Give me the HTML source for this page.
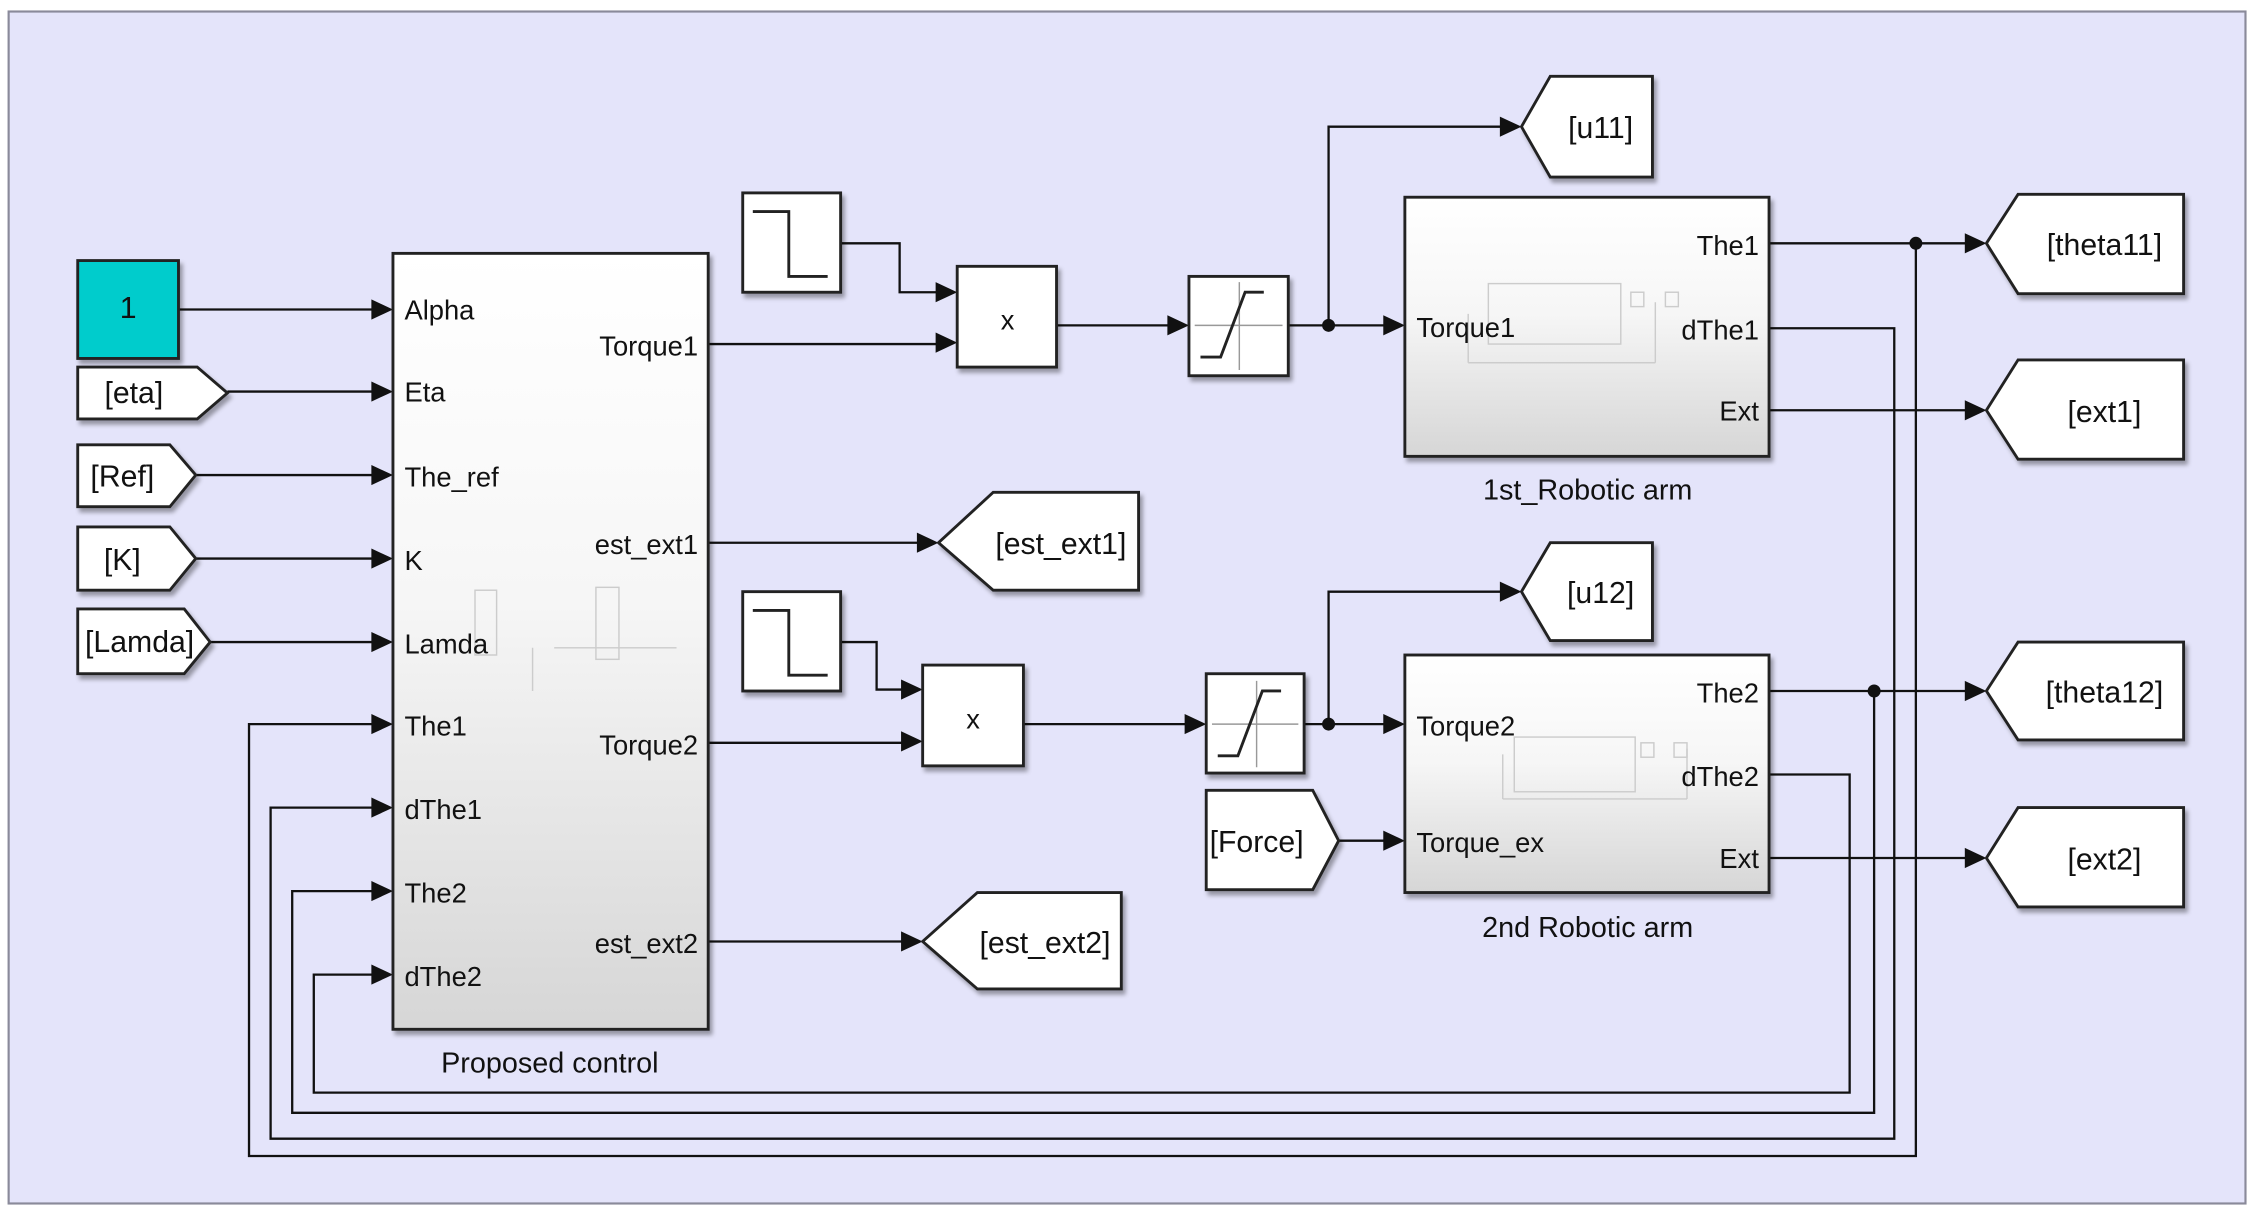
<!DOCTYPE html>
<html><head><meta charset="utf-8"><style>
html,body{margin:0;padding:0;background:#fff;}
svg{display:block;}
text{font-family:"Liberation Sans",sans-serif;fill:#111;}
</style></head><body>
<svg width="2257" height="1215" viewBox="0 0 1568 844" preserveAspectRatio="none" xmlns="http://www.w3.org/2000/svg">
<defs>
<linearGradient id="g1" x1="0" y1="0" x2="0" y2="1">
<stop offset="0" stop-color="#ffffff"/><stop offset="0.45" stop-color="#f6f6f6"/><stop offset="1" stop-color="#d6d6d6"/>
</linearGradient>
<filter id="sh" x="-10%" y="-10%" width="130%" height="130%"><feDropShadow dx="2" dy="3" stdDeviation="1.5" flood-color="#000" flood-opacity="0.35"/></filter>
</defs>
<rect x="6" y="8" width="1554" height="828" fill="#e4e4fa" stroke="#8a8a9a" stroke-width="1.5"/>

<g stroke="#111" stroke-width="1.6" fill="none">
<!-- inputs to control -->
<path d="M124 215H262"/><path d="M158 272H262"/><path d="M136 330H262"/><path d="M136 388H262"/><path d="M146 446H262"/>
<!-- control outputs -->
<path d="M492 239H654"/><path d="M492 377H641"/><path d="M492 516H630"/><path d="M492 654H630"/>
<!-- steps -->
<path d="M584 169H625V203H654"/><path d="M584 446H609V479H630"/>
<!-- products to sat -->
<path d="M734 226H815"/><path d="M711 503H827"/>
<!-- sat to arm -->
<path d="M895 226H965"/><path d="M923 226V88H1046"/>
<path d="M906 503H965"/><path d="M923 503V411H1046"/>
<path d="M930 584H965"/>
<!-- arm outputs -->
<path d="M1229 169H1369"/><path d="M1229 285H1369"/>
<path d="M1229 480H1369"/><path d="M1229 596H1369"/>
<!-- feedback -->
<path d="M1331 169V803H173V503H262"/>
<path d="M1229 228H1316V791H188V561H262"/>
<path d="M1302 480V773H203V619H262"/>
<path d="M1229 538H1285V759H218V677H262"/>
</g>
<g fill="#111">
<circle cx="923" cy="226" r="4.5"/><circle cx="923" cy="503" r="4.5"/>
<circle cx="1331" cy="169" r="4.5"/><circle cx="1302" cy="480" r="4.5"/>
<!-- arrowheads -->
<polygon points="258,208 273,215 258,222"/><polygon points="258,265 273,272 258,279"/><polygon points="258,323 273,330 258,337"/>
<polygon points="258,381 273,388 258,395"/><polygon points="258,439 273,446 258,453"/><polygon points="258,496 273,503 258,510"/>
<polygon points="258,554 273,561 258,568"/><polygon points="258,612 273,619 258,626"/><polygon points="258,670 273,677 258,684"/>
<polygon points="650,196 665,203 650,210"/><polygon points="650,231 665,238 650,245"/>
<polygon points="626,472 641,479 626,486"/><polygon points="626,508 641,515 626,522"/>
<polygon points="637,370 652,377 637,384"/><polygon points="626,647 641,654 626,661"/>
<polygon points="811,219 826,226 811,233"/><polygon points="823,496 838,503 823,510"/>
<polygon points="961,219 976,226 961,233"/><polygon points="961,496 976,503 961,510"/><polygon points="961,577 976,584 961,591"/>
<polygon points="1042,81 1057,88 1042,95"/><polygon points="1042,404 1057,411 1042,418"/>
<polygon points="1365,162 1380,169 1365,176"/><polygon points="1365,278 1380,285 1365,292"/>
<polygon points="1365,473 1380,480 1365,487"/><polygon points="1365,589 1380,596 1365,603"/>
</g>

<g stroke="#222" stroke-width="2" filter="url(#sh)">
<rect x="54" y="181" width="70" height="68" fill="#00cccc"/>
<polygon points="54,255 137,255 158,273 137,291 54,291" fill="#fff"/>
<polygon points="54,309 118,309 136,330 118,352 54,352" fill="#fff"/>
<polygon points="54,366 118,366 136,388 118,410 54,410" fill="#fff"/>
<polygon points="54,423 128,423 146,446 128,468 54,468" fill="#fff"/>
<rect x="273" y="176" width="219" height="539" fill="url(#g1)"/>
<rect x="516" y="134" width="68" height="69" fill="#fff"/>
<rect x="516" y="411" width="68" height="69" fill="#fff"/>
<rect x="665" y="185" width="69" height="70" fill="#fff"/>
<rect x="641" y="462" width="70" height="70" fill="#fff"/>
<polygon points="652,377 690,342 791,342 791,410 690,410" fill="#fff"/>
<polygon points="641,654 679,620 779,620 779,687 679,687" fill="#fff"/>
<rect x="826" y="192" width="69" height="69" fill="#fff"/>
<rect x="838" y="468" width="68" height="69" fill="#fff"/>
<polygon points="838,549 912,549 930,584 912,618 838,618" fill="#fff"/>
<polygon points="1057,88 1077,53 1148,53 1148,123 1077,123" fill="#fff"/>
<polygon points="1057,411 1077,377 1148,377 1148,445 1077,445" fill="#fff"/>
<rect x="976" y="137" width="253" height="180" fill="url(#g1)"/>
<rect x="976" y="455" width="253" height="165" fill="url(#g1)"/>
<polygon points="1380,169 1402,135 1517,135 1517,204 1402,204" fill="#fff"/>
<polygon points="1380,285 1402,250 1517,250 1517,319 1402,319" fill="#fff"/>
<polygon points="1380,480 1402,446 1517,446 1517,514 1402,514" fill="#fff"/>
<polygon points="1380,596 1402,561 1517,561 1517,630 1402,630" fill="#fff"/>
</g>

<!-- block icons -->
<g stroke="#222" stroke-width="2" fill="none">
<path d="M523 147H548V192H575"/><path d="M523 424H548V469H575"/>
</g>
<g stroke="#999" stroke-width="1" fill="none">
<path d="M830 226H891M861 196V257"/><path d="M842 503H902M873 473V533"/>
</g>
<g stroke="#222" stroke-width="2" fill="none">
<path d="M834 248H848L865 203H878"/><path d="M846 525H860L877 480H890"/>
</g>
<g stroke="#ccc" stroke-width="1" fill="none">
<rect x="1034" y="197" width="92" height="42"/><rect x="1133" y="203" width="9" height="10"/><rect x="1157" y="203" width="9" height="10"/>
<path d="M1020 252H1150M1020 218V252M1150 210V252"/>
<rect x="1052" y="512" width="84" height="38"/><rect x="1140" y="516" width="9" height="10"/><rect x="1163" y="516" width="9" height="10"/>
<path d="M1044 555H1172M1044 524V555M1172 520V555"/>
<rect x="330" y="410" width="15" height="45"/><rect x="414" y="408" width="16" height="50"/><path d="M370 450V480M385 450H470"/>
</g>

<g font-size="19">
<text x="281" y="222">Alpha</text><text x="281" y="279">Eta</text><text x="281" y="338">The_ref</text>
<text x="281" y="396">K</text><text x="281" y="454">Lamda</text><text x="281" y="511">The1</text>
<text x="281" y="569">dThe1</text><text x="281" y="627">The2</text><text x="281" y="685">dThe2</text>
<g text-anchor="end"><text x="485" y="247">Torque1</text><text x="485" y="385">est_ext1</text><text x="485" y="524">Torque2</text><text x="485" y="662">est_ext2</text>
<text x="1222" y="177">The1</text><text x="1222" y="236">dThe1</text><text x="1222" y="292">Ext</text>
<text x="1222" y="488">The2</text><text x="1222" y="546">dThe2</text><text x="1222" y="603">Ext</text></g>
<text x="984" y="234">Torque1</text><text x="984" y="511">Torque2</text><text x="984" y="592">Torque_ex</text>
<text x="382" y="745" text-anchor="middle" font-size="20">Proposed control</text>
<text x="1103" y="347" text-anchor="middle" font-size="20">1st_Robotic arm</text>
<text x="1103" y="651" text-anchor="middle" font-size="20">2nd Robotic arm</text>
<text x="700" y="229" text-anchor="middle">x</text><text x="676" y="506" text-anchor="middle">x</text>
</g>
<g font-size="21">
<text x="89" y="221" text-anchor="middle">1</text>
<text x="93" y="280" text-anchor="middle">[eta]</text>
<text x="85" y="338" text-anchor="middle">[Ref]</text>
<text x="85" y="396" text-anchor="middle">[K]</text>
<text x="97" y="453" text-anchor="middle">[Lamda]</text>
<text x="737" y="385" text-anchor="middle">[est_ext1]</text>
<text x="726" y="662" text-anchor="middle">[est_ext2]</text>
<text x="873" y="592" text-anchor="middle">[Force]</text>
<text x="1112" y="96" text-anchor="middle">[u11]</text>
<text x="1112" y="419" text-anchor="middle">[u12]</text>
<text x="1462" y="177" text-anchor="middle">[theta11]</text>
<text x="1462" y="293" text-anchor="middle">[ext1]</text>
<text x="1462" y="488" text-anchor="middle">[theta12]</text>
<text x="1462" y="604" text-anchor="middle">[ext2]</text>
</g>
</svg>
</body></html>
